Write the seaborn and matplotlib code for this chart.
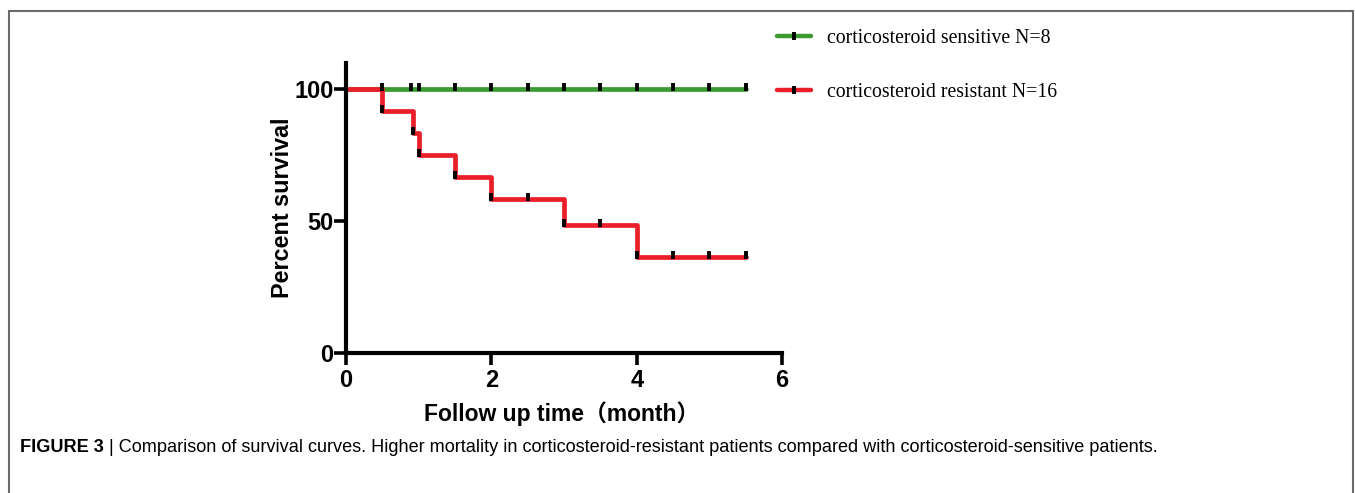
import matplotlib

matplotlib.use("Agg")
import matplotlib.pyplot as plt
import matplotlib.transforms as mtransforms
import numpy as np
import pandas as pd
import seaborn as sns
from matplotlib.legend_handler import HandlerTuple
from matplotlib.lines import Line2D

# Kaplan-Meier step data
sens_time = [0.0, 5.5]
sens_surv = [100.0, 100.0]
sens_censor = [0.5, 0.9, 1.0, 1.5, 2.0, 2.5, 3.0, 3.5, 4.0, 4.5, 5.0, 5.5]

res_time = [0.0, 0.5, 0.92, 1.0, 1.5, 2.0, 3.0, 4.0, 5.5]
res_surv = [100.0, 91.7, 83.3, 75.0, 66.7, 58.3, 48.6, 36.5, 36.5]
res_censor = [0.5, 0.92, 1.0, 1.5, 2.0, 2.5, 3.0, 3.5, 4.0, 4.5, 5.0, 5.5]

labels = ["corticosteroid sensitive N=8", "corticosteroid resistant N=16"]
colors = ["#3c9a31", "#ea1f29"]

x_ticks = [0, 2, 4, 6]
y_ticks = [0, 50, 100]

sns.set_theme(style="ticks")
plt.rcParams["font.family"] = ["Liberation Sans", "Noto Sans CJK SC", "DejaVu Sans"]
plt.rcParams["text.color"] = "black"
plt.rcParams["axes.labelcolor"] = "black"
plt.rcParams["xtick.color"] = "black"
plt.rcParams["ytick.color"] = "black"


def step_at(times, surv, t):
    idx = np.searchsorted(times, t, side="right") - 1
    return np.asarray(surv)[idx]


fig = plt.figure(figsize=(13.55, 4.93), dpi=100)
ax = fig.add_axes([0.2554, 0.284, 0.3218, 0.588])

mark_shift = ax.transData + mtransforms.ScaledTranslation(0, 1.5 / 72, fig.dpi_scale_trans)
mark_kw = dict(linestyle="none", marker="|", color="black",
               markersize=6, markeredgewidth=2.8)

handles = []
groups = [
    (sens_time, sens_surv, sens_censor),
    (res_time, res_surv, res_censor),
]
for (t, s, c), lab, col in zip(groups, labels, colors):
    df = pd.DataFrame({"time": t, "surv": s})
    sns.lineplot(data=df, x="time", y="surv", ax=ax, color=col, linewidth=3.4,
                 drawstyle="steps-post", estimator=None, zorder=2)
    cy = step_at(t, s, c)
    ax.plot(c, cy, zorder=3, transform=mark_shift, **mark_kw)
    handles.append((Line2D([], [], color=col, linewidth=3.2),
                    Line2D([], [], **mark_kw)))

ax.set_xlim(0, 6)
ax.set_ylim(0, 110)
ax.set_xticks(x_ticks)
ax.set_yticks(y_ticks)
for side in ["top", "right"]:
    ax.spines[side].set_visible(False)
for side in ["left", "bottom"]:
    ax.spines[side].set_linewidth(3.0)
    ax.spines[side].set_color("black")
ax.tick_params(direction="out", length=8.5, width=2.6, colors="black",
               labelsize=17)
ax.tick_params(axis="x", pad=3)
ax.tick_params(axis="y", pad=0.5)
for lbl in ax.get_xticklabels() + ax.get_yticklabels():
    lbl.set_fontweight("bold")

ax.set_xlabel("Follow up time（month）", fontsize=16.5, fontweight="bold")
ax.set_ylabel("Percent survival", fontsize=16.8, fontweight="bold")
ax.xaxis.label.set_va("center")
ax.yaxis.label.set_va("center")
ax.xaxis.set_label_coords(0.4955, -0.21)
ax.yaxis.set_label_coords(-0.145, 0.5)

leg = fig.legend(handles, labels, handler_map={tuple: HandlerTuple(ndivide=1)},
                 loc="upper left", bbox_to_anchor=(0.560, 0.977), frameon=False,
                 handlelength=1.77, handletextpad=0.77, labelspacing=1.75,
                 prop={"family": "Liberation Serif", "size": 14.2})

# page frame
frame_kw = dict(color="#6b6b6b", linewidth=1.5, transform=fig.transFigure)
fig.add_artist(Line2D([0.0066, 0.0066], [0.0, 0.9777], **frame_kw))
fig.add_artist(Line2D([0.0066, 0.9985], [0.9777, 0.9777], **frame_kw))
fig.add_artist(Line2D([0.9985, 0.9985], [0.0, 0.9777], **frame_kw))

# caption
cap_y = 1 - 447 / 493
t1 = fig.text(20 / 1355, cap_y, "FIGURE 3", fontsize=13.1, fontweight="bold",
              va="center", ha="left")
fig.canvas.draw()
bb = t1.get_window_extent(fig.canvas.get_renderer())
fig.text(bb.x1 / fig.bbox.width, cap_y,
         " | Comparison of survival curves. Higher mortality in corticosteroid-resistant "
         "patients compared with corticosteroid-sensitive patients.",
         fontsize=13.1, va="center", ha="left")

fig.savefig("out.png", dpi=100)
